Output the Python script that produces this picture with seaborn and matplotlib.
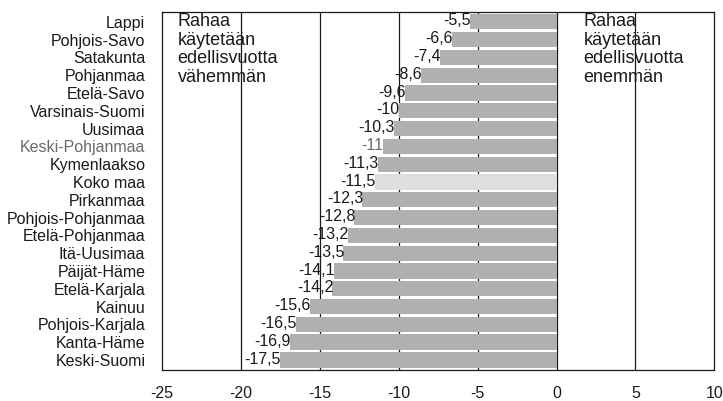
import matplotlib
matplotlib.use("Agg")
import matplotlib.pyplot as plt
import numpy as np
import pandas as pd
import seaborn as sns

# ── Data ──────────────────────────────────────────────────────────────────────
regions = [
    "Lappi", "Pohjois-Savo", "Satakunta", "Pohjanmaa", "Etelä-Savo",
    "Varsinais-Suomi", "Uusimaa", "Keski-Pohjanmaa", "Kymenlaakso", "Koko maa",
    "Pirkanmaa", "Pohjois-Pohjanmaa", "Etelä-Pohjanmaa", "Itä-Uusimaa",
    "Päijät-Häme", "Etelä-Karjala", "Kainuu", "Pohjois-Karjala",
    "Kanta-Häme", "Keski-Suomi",
]
change = [
    -5.5, -6.6, -7.4, -8.6, -9.6, -10, -10.3, -11, -11.3, -11.5,
    -12.3, -12.8, -13.2, -13.5, -14.1, -14.2, -15.6, -16.5, -16.9, -17.5,
]
x_ticks = [-25, -20, -15, -10, -5, 0, 5, 10]

BAR = "#b0b0b0"
BAR_TOTAL = "#dedede"
INK = "#1a1a1a"
MUTED = "#6a6a6a"

sns.set_style("white")
plt.rcParams["font.family"] = ["Liberation Sans", "DejaVu Sans"]

df = pd.DataFrame({"region": regions, "change": change})
colors = [BAR_TOTAL if r == "Koko maa" else BAR for r in regions]

fig, ax = plt.subplots(figsize=(7.23, 4.01), dpi=100)
fig.subplots_adjust(left=0.224, right=0.988, top=0.97, bottom=0.078)

for xv in x_ticks[1:-1]:
    ax.axvline(xv, color=INK, lw=0.9, zorder=0)

sns.barplot(data=df, y="region", x="change", hue="region", palette=colors,
            legend=False, orient="h", width=0.86, edgecolor="none",
            ax=ax, zorder=2)

for i, (r, v) in enumerate(zip(regions, change)):
    lab = f"{v:g}".replace(".", ",")
    ax.text(v + 0.05, i - 0.05, lab, ha="right", va="center", fontsize=11.5,
            color=MUTED if r == "Keski-Pohjanmaa" else INK, zorder=3)

ax.set_xlim(-25, 10)
ax.set_ylim(len(regions) - 0.45, -0.55)
ax.set_xticks(x_ticks)
ax.set_xticklabels([str(t) for t in x_ticks], fontsize=11.5, color=INK)
ax.set_xlabel("")
ax.set_ylabel("")
ax.tick_params(axis="y", length=0, pad=12, labelsize=11.5)
ax.tick_params(axis="x", length=0, pad=12)
for t, r in zip(ax.get_yticklabels(), regions):
    t.set_color(MUTED if r == "Keski-Pohjanmaa" else INK)

for sp in ax.spines.values():
    sp.set_visible(True)
    sp.set_color(INK)
    sp.set_linewidth(0.9)

note_kw = dict(ha="left", va="top", fontsize=13, color=INK, linespacing=1.12)
ax.text(-24.0, -0.48, "Rahaa\nkäytetään\nedellisvuotta\nvähemmän", **note_kw)
ax.text(1.7, -0.48, "Rahaa\nkäytetään\nedellisvuotta\nenemmän", **note_kw)

plt.savefig("out.png", dpi=100)
